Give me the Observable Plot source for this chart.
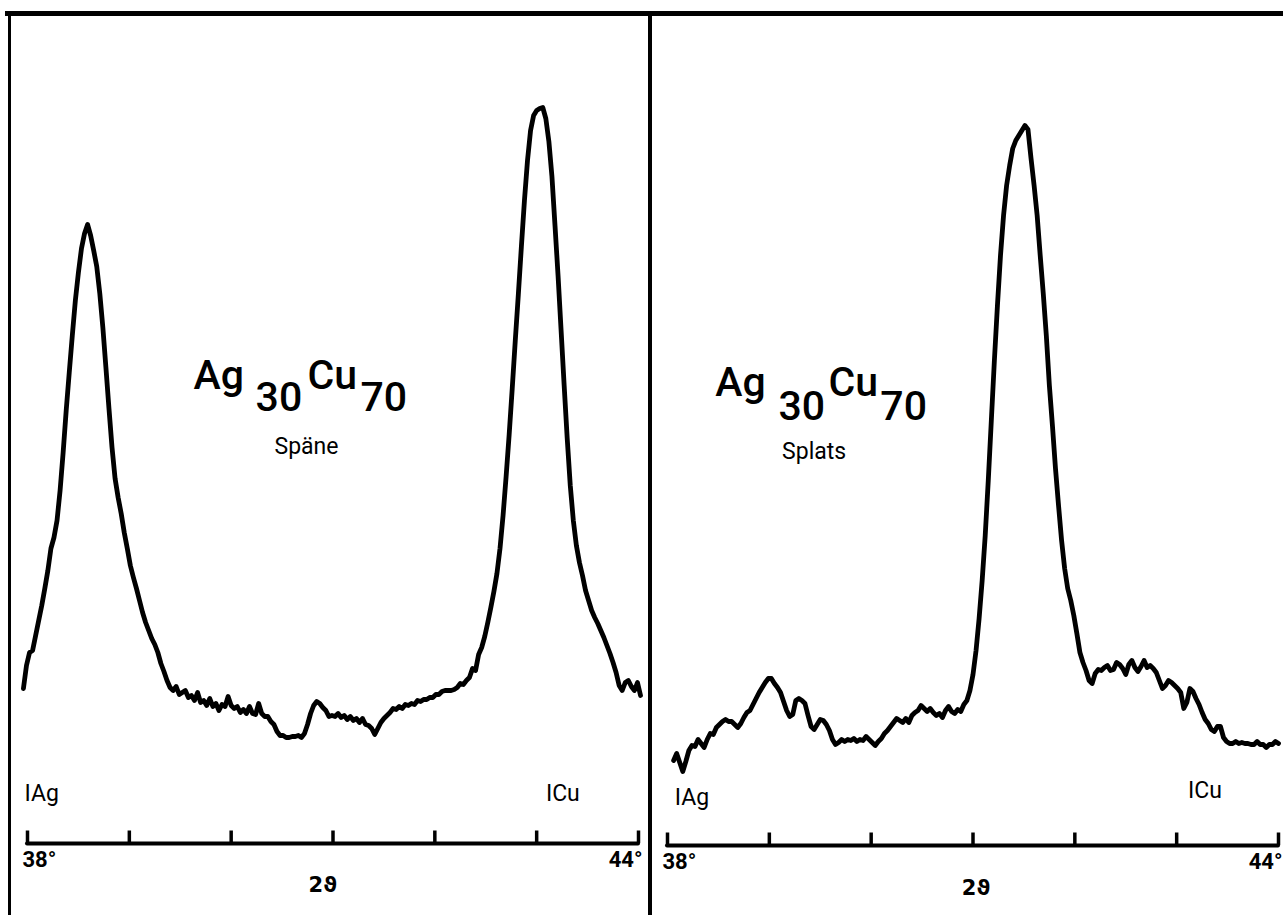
<!DOCTYPE html>
<html>
<head>
<meta charset="utf-8">
<script src="https://cdn.jsdelivr.net/npm/d3@7"></script>
<script src="https://cdn.jsdelivr.net/npm/@observablehq/plot@0.6"></script>
<style>
  html, body { margin: 0; padding: 0; background: #fff; }
  #chart { position: relative; width: 1283px; height: 915px; overflow: hidden; background: #fff; }
  .panel { position: absolute; top: 0; }
  .bar { position: absolute; background: #000; }
</style>
</head>
<body>
<div id="chart"></div>
<script>
// X-ray diffraction scans of Ag30Cu70, 2θ from 38° to 44° (intensity in arbitrary units)

// Späne (chips)
const spaneTheta = [
  37.96, 37.99, 38.02, 38.05, 38.08, 38.11, 38.14, 38.17, 38.20, 38.23,
  38.26, 38.29, 38.32, 38.35, 38.38, 38.41, 38.44, 38.47, 38.50, 38.53,
  38.56, 38.59, 38.62, 38.65, 38.68, 38.71, 38.74, 38.77, 38.80, 38.83,
  38.86, 38.89, 38.92, 38.95, 38.98, 39.01, 39.04, 39.07, 39.10, 39.13,
  39.16, 39.19, 39.22, 39.25, 39.28, 39.31, 39.34, 39.37, 39.40, 39.43,
  39.46, 39.49, 39.52, 39.55, 39.58, 39.61, 39.64, 39.67, 39.70, 39.73,
  39.76, 39.79, 39.82, 39.85, 39.88, 39.91, 39.94, 39.97, 40.00, 40.03,
  40.06, 40.09, 40.12, 40.15, 40.18, 40.21, 40.24, 40.27, 40.30, 40.33,
  40.36, 40.39, 40.42, 40.45, 40.48, 40.51, 40.54, 40.57, 40.60, 40.63,
  40.66, 40.69, 40.72, 40.75, 40.78, 40.81, 40.84, 40.87, 40.90, 40.93,
  40.96, 40.99, 41.02, 41.05, 41.08, 41.11, 41.14, 41.17, 41.20, 41.23,
  41.26, 41.29, 41.32, 41.35, 41.38, 41.41, 41.44, 41.47, 41.50, 41.53,
  41.56, 41.59, 41.62, 41.65, 41.68, 41.71, 41.74, 41.77, 41.80, 41.83,
  41.86, 41.89, 41.92, 41.95, 41.98, 42.01, 42.04, 42.07, 42.10, 42.13,
  42.16, 42.19, 42.22, 42.25, 42.28, 42.31, 42.34, 42.37, 42.40, 42.43,
  42.46, 42.49, 42.52, 42.55, 42.58, 42.61, 42.64, 42.67, 42.70, 42.73,
  42.76, 42.79, 42.82, 42.85, 42.88, 42.91, 42.94, 42.97, 43.00, 43.03,
  43.06, 43.09, 43.12, 43.15, 43.18, 43.21, 43.24, 43.27, 43.30, 43.33,
  43.36, 43.39, 43.42, 43.45, 43.48, 43.51, 43.54, 43.57, 43.60, 43.63,
  43.66, 43.69, 43.72, 43.75, 43.78, 43.81, 43.84, 43.87, 43.90, 43.93,
  43.96, 43.99, 44.02
];
const spaneCounts = [
  31.0, 35.6, 38.2, 38.6, 41.6, 44.6, 47.6, 51.0, 54.6, 59.0,
  61.2, 64.6, 70.6, 78.2, 86.6, 94.2, 101.6, 108.6, 114.2, 119.0,
  122.0, 123.8, 121.6, 118.6, 115.4, 110.0, 103.2, 95.2, 87.0, 79.2,
  73.0, 69.2, 66.0, 62.2, 59.0, 55.6, 53.2, 51.0, 48.6, 46.2,
  44.2, 42.6, 41.0, 39.8, 38.2, 36.0, 34.4, 32.6, 31.2, 30.6,
  31.4, 29.8, 30.2, 30.6, 29.2, 29.6, 28.6, 30.2, 28.2, 28.6,
  27.6, 29.0, 27.4, 28.0, 26.6, 27.8, 27.4, 29.4, 27.6, 27.0,
  27.4, 26.2, 26.8, 26.0, 27.4, 26.0, 25.8, 28.0, 26.0, 25.4,
  25.4, 24.4, 23.8, 22.4, 21.6, 21.6, 21.2, 21.2, 21.4, 21.4,
  21.6, 21.2, 22.0, 23.8, 26.0, 27.6, 28.4, 28.0, 27.2, 26.6,
  25.4, 25.6, 25.4, 26.0, 25.2, 25.6, 24.8, 25.4, 24.6, 25.0,
  24.2, 25.0, 23.8, 23.6, 23.0, 21.8, 23.0, 24.2, 25.0, 25.6,
  26.2, 27.0, 26.8, 27.4, 27.0, 27.8, 27.6, 28.0, 27.8, 28.6,
  28.4, 28.8, 28.8, 29.2, 29.2, 29.8, 29.8, 30.4, 30.6, 30.6,
  30.6, 30.8, 31.2, 32.0, 31.8, 32.6, 33.2, 35.0, 34.6, 37.8,
  39.2, 41.4, 44.2, 47.2, 50.4, 54.0, 59.0, 65.6, 73.4, 81.8,
  91.0, 100.6, 109.8, 119.4, 128.6, 136.6, 142.6, 145.6, 146.6, 147.0,
  147.2, 145.0, 140.4, 133.4, 123.6, 113.6, 102.6, 91.6, 81.0, 71.6,
  64.6, 59.6, 56.2, 53.6, 50.6, 48.6, 46.6, 45.2, 44.0, 42.6,
  41.2, 39.6, 38.0, 36.2, 34.2, 31.6, 30.6, 32.2, 32.6, 31.4,
  30.6, 32.2, 29.6
];

// Splats
const splatsTheta = [
  38.06, 38.09, 38.12, 38.15, 38.18, 38.21, 38.24, 38.27, 38.30, 38.33,
  38.36, 38.39, 38.42, 38.45, 38.48, 38.51, 38.54, 38.57, 38.60, 38.63,
  38.66, 38.69, 38.72, 38.75, 38.78, 38.81, 38.84, 38.87, 38.90, 38.93,
  38.96, 38.99, 39.02, 39.05, 39.08, 39.11, 39.14, 39.17, 39.20, 39.23,
  39.26, 39.29, 39.32, 39.35, 39.38, 39.41, 39.44, 39.47, 39.50, 39.53,
  39.56, 39.59, 39.62, 39.65, 39.68, 39.71, 39.74, 39.77, 39.80, 39.83,
  39.86, 39.89, 39.92, 39.95, 39.98, 40.01, 40.04, 40.07, 40.10, 40.13,
  40.16, 40.19, 40.22, 40.25, 40.28, 40.31, 40.34, 40.37, 40.40, 40.43,
  40.46, 40.49, 40.52, 40.55, 40.58, 40.61, 40.64, 40.67, 40.70, 40.73,
  40.76, 40.79, 40.82, 40.85, 40.88, 40.91, 40.94, 40.97, 41.00, 41.03,
  41.06, 41.09, 41.12, 41.15, 41.18, 41.21, 41.24, 41.27, 41.30, 41.33,
  41.36, 41.39, 41.42, 41.45, 41.48, 41.51, 41.54, 41.57, 41.60, 41.63,
  41.66, 41.69, 41.72, 41.75, 41.78, 41.81, 41.84, 41.87, 41.90, 41.93,
  41.96, 41.99, 42.02, 42.05, 42.08, 42.11, 42.14, 42.17, 42.20, 42.23,
  42.26, 42.29, 42.32, 42.35, 42.38, 42.41, 42.44, 42.47, 42.50, 42.53,
  42.56, 42.59, 42.62, 42.65, 42.68, 42.71, 42.74, 42.77, 42.80, 42.83,
  42.86, 42.89, 42.92, 42.95, 42.98, 43.01, 43.04, 43.07, 43.10, 43.13,
  43.16, 43.19, 43.22, 43.25, 43.28, 43.31, 43.34, 43.37, 43.40, 43.43,
  43.46, 43.49, 43.52, 43.55, 43.58, 43.61, 43.64, 43.67, 43.70, 43.73,
  43.76, 43.79, 43.82, 43.85, 43.88, 43.91, 43.94, 43.97, 44.00
];
const splatsCounts = [
  17.0, 18.4, 16.6, 14.8, 16.8, 19.0, 20.0, 19.8, 21.2, 20.4,
  19.6, 21.2, 22.4, 22.2, 23.6, 24.2, 24.8, 25.2, 24.8, 24.8,
  24.2, 23.6, 24.4, 25.6, 26.6, 27.0, 28.2, 29.4, 30.6, 31.6,
  32.6, 33.4, 33.4, 32.4, 31.6, 30.6, 28.8, 27.0, 25.8, 26.2,
  29.0, 29.4, 29.0, 28.4, 26.0, 23.8, 23.2, 24.2, 25.2, 25.0,
  24.2, 23.0, 21.2, 20.2, 20.6, 21.2, 20.8, 21.2, 21.0, 21.4,
  20.8, 21.2, 21.0, 21.8, 21.2, 20.6, 20.0, 20.8, 21.4, 22.4,
  23.0, 23.8, 24.6, 25.4, 25.0, 24.6, 25.4, 24.6, 26.0, 26.6,
  27.0, 28.0, 27.4, 26.8, 27.4, 26.6, 26.0, 26.4, 25.6, 27.0,
  27.8, 26.8, 26.4, 27.2, 26.8, 28.2, 29.0, 31.0, 34.2, 39.0,
  45.4, 53.0, 62.0, 73.0, 85.0, 97.0, 108.0, 118.0, 126.0, 132.0,
  136.0, 139.4, 141.0, 142.0, 143.0, 144.0, 143.2, 137.4, 132.0, 126.0,
  118.0, 110.4, 102.0, 92.0, 84.0, 75.4, 68.0, 61.0, 55.4, 51.4,
  49.0, 46.0, 42.4, 38.6, 36.6, 35.0, 33.0, 32.4, 34.4, 35.2,
  35.0, 35.6, 36.0, 35.0, 35.2, 36.6, 36.2, 35.4, 34.2, 36.2,
  37.0, 35.6, 34.8, 35.8, 37.0, 35.6, 36.0, 35.4, 34.6, 33.0,
  31.4, 32.0, 33.0, 32.6, 32.0, 31.4, 30.6, 27.4, 28.6, 31.4,
  30.8, 29.4, 28.2, 26.6, 25.2, 24.4, 23.2, 22.8, 23.8, 23.8,
  21.6, 20.8, 20.4, 20.4, 20.8, 20.4, 20.6, 20.4, 20.4, 20.2,
  20.2, 20.8, 20.2, 20.2, 19.6, 20.2, 20.2, 20.8, 20.4
];

// Axis: one tick per degree, labelled only at the ends
const tickAngles = [38, 39, 40, 41, 42, 43, 44];
const endLabels = ["38°", "44°"];
const axisTitle = "2ϑ";
// Reference lines for the pure elements
const phaseLabels = ["IAg", "ICu"];
// Alloy formula pieces: [text, subscript?]
const formulaParts = [["Ag", false], ["30", true], ["Cu", false], ["70", true]];
const sampleNames = ["Späne", "Splats"];

const INK = "#000";
const SANS = "Roboto, 'DejaVu Sans', sans-serif";
const THETA_FONT = "'DejaVu Sans', sans-serif";

function drawPanel(cfg) {
  const points = cfg.theta.map((t, i) => ({theta: t, counts: cfg.counts[i]}))
    .filter(d => d.counts != null);
  const formula = formulaParts.map(([text, sub], i) => ({
    text, x: cfg.formulaX[i], y: sub ? cfg.subY : cfg.mainY
  }));
  return Plot.plot({
    width: cfg.width,
    height: 915,
    marginLeft: cfg.marginLeft,
    marginRight: cfg.marginRight,
    marginTop: cfg.marginTop,
    marginBottom: cfg.marginBottom,
    x: {domain: [38, 44], axis: null},
    y: {domain: [0, 150], axis: null},
    style: {background: "transparent", overflow: "visible"},
    marks: [
      // baseline and degree ticks
      Plot.ruleY([0], {x1: 38, x2: 44, stroke: INK, strokeWidth: 4, strokeLinecap: "round"}),
      Plot.ruleX(tickAngles, {x: d => d, y1: 0, y2: 2.5, stroke: INK, strokeWidth: 3.5}),
      Plot.text([endLabels[0]], {x: 38, y: 0, text: d => d, textAnchor: "start", dx: -5, dy: cfg.endDy,
        fontSize: 22, fontWeight: "bold", fontFamily: SANS, fill: INK}),
      Plot.text([endLabels[1]], {x: 44, y: 0, text: d => d, textAnchor: "end", dx: 4, dy: cfg.endDy,
        fontSize: 22, fontWeight: "bold", fontFamily: SANS, fill: INK}),
      Plot.text([axisTitle], {x: cfg.axisTitleX, y: 0, text: d => d, dy: cfg.axisTitleDy,
        fontSize: 21, fontWeight: "bold", fontFamily: THETA_FONT, fill: INK}),
      // element markers
      Plot.text([phaseLabels[0]], {x: cfg.phaseX[0], y: 0, text: d => d, textAnchor: "start",
        dx: -3, dy: cfg.phaseDy[0], fontSize: 23, fontFamily: SANS, fill: INK}),
      Plot.text([phaseLabels[1]], {x: cfg.phaseX[1], y: 0, text: d => d, textAnchor: "start",
        dx: -3, dy: cfg.phaseDy[1], fontSize: 23, fontFamily: SANS, fill: INK}),
      // diffraction trace
      Plot.line(points, {x: "theta", y: "counts", stroke: INK, strokeWidth: 4.8,
        strokeLinejoin: "round", strokeLinecap: "round"}),
      // sample title
      Plot.text(formula, {x: "x", y: "y", text: "text", textAnchor: "start",
        fontSize: 41, fontWeight: 500, fontFamily: SANS, fill: INK}),
      Plot.text([cfg.name], {x: cfg.nameX, y: cfg.nameY, text: d => d,
        fontSize: 23, fontFamily: SANS, fill: INK})
    ]
  });
}

const chart = document.getElementById("chart");

const left = drawPanel({
  theta: spaneTheta, counts: spaneCounts, name: sampleNames[0],
  width: 650, marginLeft: 27, marginRight: 12, marginTop: 93, marginBottom: 72,
  endDy: 16, axisTitleX: 40.9, axisTitleDy: 42,
  phaseX: [38.0, 43.12], phaseDy: [-50, -50],
  formulaX: [39.63, 40.24, 40.75, 41.27], mainY: 93.6, subY: 89.2,
  nameX: 40.74, nameY: 79.4
});
left.classList.add("panel");
left.style.left = "0px";
chart.appendChild(left);

const right = drawPanel({
  theta: splatsTheta, counts: splatsCounts, name: sampleNames[1],
  width: 633, marginLeft: 17, marginRight: 5, marginTop: 95, marginBottom: 70,
  endDy: 16, axisTitleX: 41.03, axisTitleDy: 43,
  phaseX: [38.1, 43.14], phaseDy: [-48, -55],
  formulaX: [38.47, 39.09, 39.58, 40.09], mainY: 92.6, subY: 87.8,
  nameX: 39.44, nameY: 78.8
});
right.classList.add("panel");
right.style.left = "650px";
chart.appendChild(right);

// outer frame: top bar, left edge and the divider between the two scans
[
  {left: 5, top: 11, width: 1278, height: 5},
  {left: 8, top: 13, width: 3, height: 902},
  {left: 648, top: 13, width: 4, height: 902}
].forEach(r => {
  const el = document.createElement("div");
  el.className = "bar";
  Object.assign(el.style, {left: r.left + "px", top: r.top + "px", width: r.width + "px", height: r.height + "px"});
  chart.appendChild(el);
});
</script>
</body>
</html>
